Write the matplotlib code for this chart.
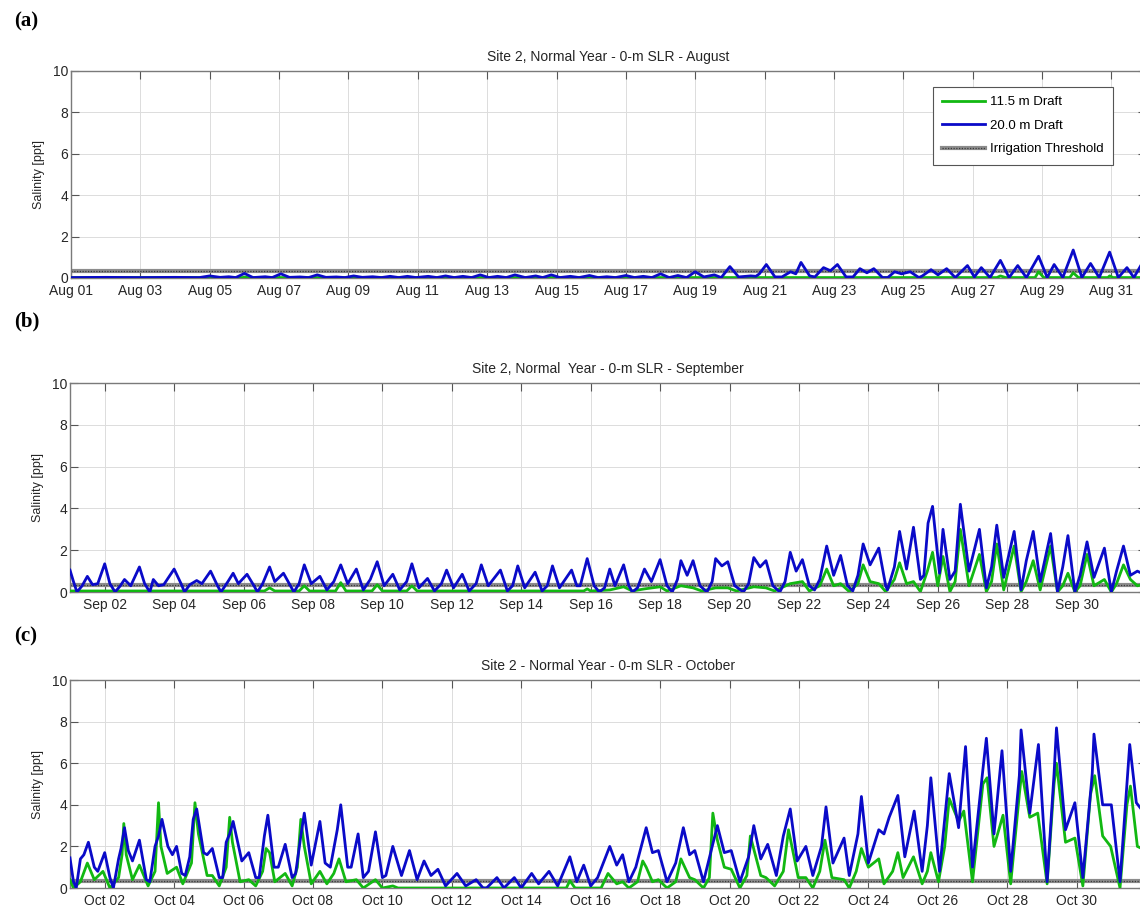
import matplotlib
matplotlib.use("Agg")
import matplotlib.pyplot as plt
import matplotlib.dates as mdates
from matplotlib.legend_handler import HandlerTuple
import pandas as pd

plt.rcParams['font.family'] = ['Liberation Sans', 'DejaVu Sans']

# salinity records as (day of month, ppt) pairs
aug_115 = [(1.0, 0.02), (5.95, 0.02), (6.0, 0.05), (6.1, 0.02), (27.7, 0.02), (27.8, 0.1), (27.95, 0.02),
           (28.8, 0.02), (28.9, 0.3), (29.05, 0.02), (29.8, 0.02), (29.9, 0.25), (30.05, 0.02),
           (30.9, 0.02), (30.95, 0.1), (31.05, 0.02), (32.0, 0.02)]
aug_200 = [(1.0, 0.02), (2.0, 0.03), (3.0, 0.02), (4.0, 0.03), (4.7, 0.02), (5.0, 0.1), (5.3, 0.03),
           (5.55, 0.06), (5.75, 0.02), (6.0, 0.22), (6.25, 0.02), (6.6, 0.06), (6.8, 0.02), (7.05, 0.2),
           (7.3, 0.03), (7.6, 0.05), (7.85, 0.02), (8.1, 0.15), (8.35, 0.03), (8.65, 0.05), (8.9, 0.02),
           (9.15, 0.1), (9.4, 0.03), (9.7, 0.06), (9.95, 0.02), (10.2, 0.08), (10.45, 0.02), (10.7, 0.08),
           (10.95, 0.02), (11.3, 0.08), (11.55, 0.02), (11.8, 0.1), (12.05, 0.02), (12.3, 0.08),
           (12.55, 0.02), (12.8, 0.15), (13.05, 0.02), (13.3, 0.08), (13.55, 0.02), (13.8, 0.15),
           (14.1, 0.02), (14.4, 0.1), (14.6, 0.02), (14.85, 0.15), (15.1, 0.02), (15.4, 0.08),
           (15.65, 0.02), (15.95, 0.12), (16.2, 0.02), (16.45, 0.06), (16.7, 0.02), (17.0, 0.12),
           (17.25, 0.02), (17.5, 0.08), (17.75, 0.02), (18.0, 0.2), (18.25, 0.02), (18.5, 0.12),
           (18.75, 0.02), (19.0, 0.3), (19.25, 0.05), (19.55, 0.15), (19.75, 0.02), (20.0, 0.55),
           (20.25, 0.05), (20.6, 0.1), (20.75, 0.08), (20.85, 0.2), (21.05, 0.65), (21.3, 0.05),
           (21.5, 0.05), (21.75, 0.3), (21.9, 0.2), (22.05, 0.75), (22.3, 0.1), (22.45, 0.05),
           (22.7, 0.5), (22.9, 0.35), (23.1, 0.65), (23.35, 0.05), (23.55, 0.05), (23.75, 0.45),
           (23.95, 0.25), (24.15, 0.45), (24.4, 0.02), (24.55, 0.02), (24.75, 0.3), (24.95, 0.2),
           (25.2, 0.3), (25.45, 0.02), (25.55, 0.1), (25.8, 0.4), (26.0, 0.15), (26.25, 0.45),
           (26.5, 0.02), (26.85, 0.6), (27.05, 0.05), (27.25, 0.5), (27.5, 0.02), (27.8, 0.85),
           (28.05, 0.02), (28.3, 0.6), (28.55, 0.02), (28.9, 1.05), (29.15, 0.02), (29.35, 0.65),
           (29.6, 0.02), (29.9, 1.35), (30.15, 0.02), (30.4, 0.7), (30.65, 0.02), (30.95, 1.25),
           (31.2, 0.02), (31.45, 0.5), (31.65, 0.02), (31.9, 0.75), (32.0, 0.8)]

sep_115 = [(1.0, 0.05), (6.6, 0.05), (6.75, 0.2), (6.9, 0.05), (7.6, 0.05), (7.75, 0.3), (7.9, 0.05),
           (8.65, 0.05), (8.8, 0.45), (8.95, 0.05), (9.7, 0.05), (9.85, 0.35), (10.0, 0.05), (10.7, 0.05),
           (10.85, 0.3), (11.0, 0.05), (15.8, 0.05), (15.9, 0.15), (16.0, 0.05), (16.55, 0.1),
           (16.95, 0.25), (17.2, 0.05), (17.55, 0.15), (18.0, 0.25), (18.2, 0.05), (18.6, 0.3),
           (18.95, 0.2), (19.2, 0.05), (19.6, 0.2), (19.95, 0.2), (20.2, 0.05), (20.7, 0.25),
           (21.05, 0.2), (21.3, 0.05), (21.75, 0.4), (22.1, 0.5), (22.3, 0.05), (22.6, 0.3), (22.8, 1.1),
           (23.0, 0.3), (23.2, 0.4), (23.45, 0.02), (23.7, 0.4), (23.85, 1.3), (24.05, 0.5), (24.3, 0.4),
           (24.5, 0.02), (24.75, 0.6), (24.9, 1.4), (25.1, 0.4), (25.3, 0.5), (25.5, 0.02), (25.7, 1.0),
           (25.85, 1.9), (26.0, 0.3), (26.15, 1.7), (26.35, 0.02), (26.5, 0.5), (26.65, 3.0),
           (26.9, 0.3), (27.2, 1.8), (27.4, 0.02), (27.55, 0.5), (27.7, 2.3), (27.9, 0.1), (28.2, 2.2),
           (28.4, 0.02), (28.55, 0.5), (28.75, 1.5), (28.95, 0.1), (29.25, 2.2), (29.45, 0.0),
           (29.6, 0.3), (29.75, 0.9), (29.95, 0.0), (30.1, 0.3), (30.3, 1.8), (30.5, 0.3), (30.8, 0.6),
           (31.0, 0.0), (31.15, 0.4), (31.35, 1.3), (31.55, 0.6), (31.75, 0.3), (32.0, 0.4)]
sep_200 = [(1.0, 1.05), (1.1, 0.5), (1.2, 0.0), (1.35, 0.3), (1.5, 0.75), (1.65, 0.35), (1.8, 0.4),
           (2.0, 1.35), (2.15, 0.4), (2.3, 0.0), (2.45, 0.3), (2.57, 0.6), (2.75, 0.3), (3.0, 1.2),
           (3.15, 0.4), (3.3, 0.0), (3.4, 0.6), (3.55, 0.3), (3.7, 0.35), (4.0, 1.1), (4.2, 0.4),
           (4.3, 0.0), (4.45, 0.35), (4.65, 0.55), (4.8, 0.4), (5.05, 1.0), (5.25, 0.3), (5.35, 0.0),
           (5.55, 0.5), (5.7, 0.9), (5.85, 0.4), (6.1, 0.85), (6.3, 0.3), (6.4, 0.0), (6.55, 0.4),
           (6.75, 1.2), (6.9, 0.5), (7.15, 0.9), (7.35, 0.3), (7.45, 0.0), (7.6, 0.4), (7.75, 1.3),
           (7.95, 0.4), (8.2, 0.75), (8.4, 0.1), (8.6, 0.5), (8.8, 1.3), (9.0, 0.4), (9.25, 1.1),
           (9.45, 0.1), (9.65, 0.6), (9.85, 1.45), (10.05, 0.3), (10.3, 0.85), (10.5, 0.1), (10.7, 0.5),
           (10.85, 1.35), (11.05, 0.2), (11.3, 0.65), (11.5, 0.05), (11.7, 0.4), (11.85, 1.05),
           (12.05, 0.2), (12.3, 0.85), (12.5, 0.05), (12.7, 0.4), (12.85, 1.3), (13.05, 0.3),
           (13.4, 1.05), (13.6, 0.05), (13.75, 0.3), (13.9, 1.25), (14.1, 0.2), (14.4, 0.95),
           (14.6, 0.05), (14.75, 0.3), (14.9, 1.25), (15.1, 0.2), (15.45, 1.05), (15.6, 0.3),
           (15.7, 0.3), (15.9, 1.6), (16.1, 0.3), (16.25, 0.0), (16.4, 0.2), (16.55, 1.1), (16.7, 0.3),
           (16.95, 1.3), (17.1, 0.3), (17.2, 0.0), (17.35, 0.2), (17.55, 1.1), (17.75, 0.5),
           (18.0, 1.55), (18.2, 0.3), (18.35, 0.0), (18.5, 0.6), (18.6, 1.5), (18.78, 0.8),
           (18.95, 1.5), (19.15, 0.3), (19.35, 0.0), (19.5, 0.5), (19.6, 1.6), (19.78, 1.25),
           (19.95, 1.45), (20.15, 0.3), (20.4, 0.0), (20.55, 0.4), (20.7, 1.65), (20.88, 1.2),
           (21.05, 1.5), (21.25, 0.3), (21.45, 0.0), (21.6, 0.5), (21.75, 1.9), (21.92, 1.0),
           (22.1, 1.55), (22.3, 0.3), (22.45, 0.1), (22.6, 0.6), (22.8, 2.2), (23.0, 0.8), (23.2, 1.75),
           (23.4, 0.3), (23.55, 0.05), (23.7, 0.8), (23.85, 2.3), (24.05, 1.3), (24.3, 2.1), (24.5, 0.3),
           (24.55, 0.1), (24.75, 1.2), (24.9, 2.9), (25.1, 1.1), (25.3, 3.1), (25.5, 0.6), (25.6, 0.8),
           (25.72, 3.3), (25.85, 4.1), (26.05, 0.9), (26.15, 3.0), (26.35, 0.6), (26.5, 1.0),
           (26.65, 4.2), (26.9, 1.0), (27.2, 3.0), (27.4, 0.2), (27.55, 1.2), (27.7, 3.2), (27.9, 0.7),
           (28.2, 2.9), (28.4, 0.1), (28.55, 1.5), (28.75, 2.9), (28.95, 0.5), (29.25, 2.8),
           (29.45, 0.0), (29.6, 1.2), (29.75, 2.7), (29.95, 0.0), (30.1, 0.8), (30.3, 2.4), (30.5, 0.7),
           (30.8, 2.1), (31.0, 0.0), (31.15, 1.0), (31.35, 2.2), (31.55, 0.8), (31.75, 1.0), (32.0, 0.8)]

oct_115 = [(1.0, 0.4), (1.1, 0.0), (1.3, 0.3), (1.5, 1.2), (1.7, 0.4), (1.95, 0.8), (2.15, 0.0), (2.4, 0.5),
           (2.5, 1.6), (2.55, 3.1), (2.62, 1.6), (2.8, 0.4), (3.0, 1.1), (3.25, 0.1), (3.45, 0.8),
           (3.55, 4.1), (3.62, 2.0), (3.8, 0.7), (4.07, 1.0), (4.25, 0.2), (4.5, 1.2), (4.6, 4.1),
           (4.7, 2.6), (4.95, 0.6), (5.1, 0.6), (5.3, 0.1), (5.5, 1.0), (5.6, 3.4), (5.68, 2.2),
           (5.9, 0.3), (6.15, 0.4), (6.35, 0.1), (6.55, 0.8), (6.65, 1.9), (6.75, 1.7), (6.9, 0.3),
           (7.2, 0.7), (7.4, 0.1), (7.55, 1.0), (7.65, 3.3), (7.75, 2.0), (7.95, 0.2), (8.2, 0.8),
           (8.4, 0.2), (8.6, 0.7), (8.75, 1.4), (8.95, 0.3), (9.25, 0.4), (9.45, 0.0), (9.8, 0.4),
           (10.0, 0.0), (10.3, 0.1), (10.45, 0.0), (15.3, 0.0), (15.4, 0.35), (15.55, 0.0), (16.3, 0.0),
           (16.5, 0.7), (16.75, 0.2), (16.92, 0.3), (17.1, 0.0), (17.35, 0.3), (17.5, 1.3), (17.6, 1.0),
           (17.78, 0.3), (17.95, 0.4), (18.2, 0.0), (18.45, 0.3), (18.6, 1.4), (18.85, 0.5), (19.0, 0.4),
           (19.25, 0.0), (19.42, 0.5), (19.52, 3.6), (19.65, 2.3), (19.85, 1.0), (20.05, 0.9),
           (20.3, 0.0), (20.5, 0.6), (20.6, 2.5), (20.9, 0.6), (21.05, 0.5), (21.3, 0.1), (21.55, 0.8),
           (21.7, 2.8), (21.98, 0.5), (22.2, 0.5), (22.4, 0.0), (22.6, 0.8), (22.75, 2.3), (22.95, 0.5),
           (23.3, 0.4), (23.45, 0.0), (23.65, 0.8), (23.8, 1.9), (24.0, 1.0), (24.3, 1.4), (24.45, 0.2),
           (24.7, 0.8), (24.85, 1.7), (25.0, 0.5), (25.3, 1.5), (25.55, 0.2), (25.7, 0.8), (25.8, 1.7),
           (26.02, 0.3), (26.2, 2.0), (26.33, 4.3), (26.6, 3.2), (26.75, 3.7), (27.0, 0.3), (27.3, 5.0),
           (27.42, 5.3), (27.62, 2.0), (27.88, 3.5), (28.1, 0.2), (28.35, 4.5), (28.42, 5.6),
           (28.65, 3.4), (28.88, 3.6), (29.15, 0.2), (29.35, 5.0), (29.42, 6.0), (29.68, 2.2),
           (29.95, 2.4), (30.18, 0.1), (30.4, 4.5), (30.52, 5.4), (30.75, 2.5), (30.98, 2.0),
           (31.25, 0.0), (31.45, 4.0), (31.55, 4.9), (31.75, 2.0), (32.0, 1.8)]
oct_200 = [(1.0, 1.45), (1.1, 0.3), (1.18, 0.0), (1.3, 1.4), (1.4, 1.6), (1.53, 2.2), (1.7, 1.0), (1.8, 0.8),
           (2.0, 1.7), (2.15, 0.5), (2.25, 0.0), (2.4, 1.4), (2.47, 1.9), (2.57, 2.9), (2.68, 1.8),
           (2.8, 1.3), (3.0, 2.3), (3.2, 0.4), (3.3, 0.3), (3.45, 2.0), (3.55, 2.5), (3.65, 3.3),
           (3.82, 2.0), (3.95, 1.6), (4.07, 2.0), (4.22, 0.7), (4.32, 0.6), (4.45, 1.5), (4.55, 3.3),
           (4.65, 3.8), (4.85, 1.7), (4.95, 1.6), (5.1, 1.9), (5.3, 0.5), (5.4, 0.5), (5.5, 2.2),
           (5.6, 2.6), (5.7, 3.2), (5.95, 1.3), (6.15, 1.7), (6.35, 0.5), (6.45, 0.5), (6.6, 2.5),
           (6.7, 3.5), (6.88, 1.0), (7.0, 1.0), (7.2, 2.1), (7.4, 0.5), (7.5, 0.7), (7.65, 2.5),
           (7.75, 3.6), (7.95, 1.1), (8.2, 3.2), (8.35, 1.2), (8.5, 1.0), (8.7, 2.8), (8.8, 4.0),
           (9.0, 1.0), (9.1, 1.0), (9.3, 2.6), (9.45, 0.5), (9.6, 0.8), (9.8, 2.7), (10.0, 0.5),
           (10.1, 0.6), (10.3, 2.0), (10.55, 0.6), (10.78, 1.8), (11.0, 0.4), (11.2, 1.3), (11.4, 0.6),
           (11.6, 0.9), (11.82, 0.1), (12.15, 0.7), (12.4, 0.1), (12.7, 0.4), (12.9, 0.0), (13.0, 0.0),
           (13.3, 0.5), (13.5, 0.0), (13.8, 0.5), (14.0, 0.0), (14.3, 0.7), (14.5, 0.2), (14.8, 0.8),
           (15.05, 0.1), (15.4, 1.5), (15.6, 0.3), (15.8, 1.1), (16.0, 0.1), (16.2, 0.5), (16.55, 2.0),
           (16.75, 1.1), (16.92, 1.6), (17.1, 0.3), (17.3, 1.0), (17.6, 2.9), (17.78, 1.7),
           (17.95, 1.8), (18.2, 0.3), (18.45, 1.2), (18.67, 2.9), (18.85, 1.6), (19.0, 1.8),
           (19.25, 0.3), (19.5, 2.0), (19.65, 3.0), (19.85, 1.7), (20.05, 1.8), (20.3, 0.3),
           (20.55, 1.5), (20.7, 3.0), (20.9, 1.4), (21.1, 2.1), (21.35, 0.6), (21.55, 2.5),
           (21.75, 3.8), (21.95, 1.3), (22.2, 2.0), (22.4, 0.6), (22.65, 2.0), (22.78, 3.9),
           (22.98, 1.2), (23.3, 2.4), (23.45, 0.6), (23.7, 2.6), (23.8, 4.4), (24.0, 1.2), (24.3, 2.8),
           (24.45, 2.6), (24.6, 3.4), (24.85, 4.45), (25.05, 1.5), (25.32, 3.7), (25.55, 0.8),
           (25.7, 3.0), (25.8, 5.3), (26.05, 0.8), (26.33, 5.5), (26.6, 2.9), (26.8, 6.8), (27.0, 1.0),
           (27.3, 5.7), (27.4, 7.2), (27.62, 2.6), (27.85, 6.6), (28.1, 0.8), (28.35, 5.4), (28.4, 7.6),
           (28.65, 3.6), (28.9, 6.9), (29.15, 0.3), (29.35, 5.5), (29.42, 7.7), (29.68, 2.8),
           (29.95, 4.1), (30.18, 0.5), (30.45, 5.5), (30.5, 7.4), (30.75, 4.0), (31.0, 4.0),
           (31.25, 0.3), (31.45, 5.0), (31.53, 6.9), (31.72, 4.1), (32.0, 3.5)]

threshold = 0.35
month_starts = ['2015-08-01', '2015-09-01', '2015-10-01']
titles = ['Site 2, Normal Year - 0-m SLR - August',
          'Site 2, Normal  Year - 0-m SLR - September',
          'Site 2 - Normal Year - 0-m SLR - October']
panel_tags = ['(a)', '(b)', '(c)']
first_tick_day = [1, 2, 2]
series_115 = [aug_115, sep_115, oct_115]
series_200 = [aug_200, sep_200, oct_200]

GREEN = '#12b812'
BLUE = '#0a0ac8'
TXT = '#262626'


def to_series(start, pairs):
    t0 = pd.Timestamp(start)
    days = [d for d, _ in pairs]
    vals = [v for _, v in pairs]
    times = t0 + pd.to_timedelta([d - 1 for d in days], unit='D')
    return times, vals


fig = plt.figure(figsize=(11.4, 9.09), dpi=100)
boxes = [(0.0623, 0.6942, 0.9430, 0.2277),
         (0.0614, 0.3487, 0.9439, 0.2299),
         (0.0614, 0.0231, 0.9439, 0.2288)]
tag_y = [0.976, 0.646, 0.300]

for i in range(3):
    ax = fig.add_axes(boxes[i])
    start = pd.Timestamp(month_starts[i])
    end = start + pd.Timedelta(days=31)
    month_end = start + pd.offsets.MonthEnd(0)

    thr_band, = ax.plot([start, end], [threshold, threshold], color='#8c8c8c', lw=3.0, zorder=2)
    thr_dots, = ax.plot([start, end], [threshold, threshold], color='#3a3a3a', lw=0.9,
                        ls=(0, (1, 1.2)), zorder=2.1)
    t, v = to_series(month_starts[i], series_115[i])
    g_line, = ax.plot(t, v, color=GREEN, lw=2.0, zorder=3)
    t, v = to_series(month_starts[i], series_200[i])
    b_line, = ax.plot(t, v, color=BLUE, lw=2.0, zorder=4)

    ax.set_xlim(start, end)
    ax.set_ylim(0, 10)
    ax.set_yticks([0, 2, 4, 6, 8, 10])
    ticks = pd.date_range(start + pd.Timedelta(days=first_tick_day[i] - 1), month_end, freq='2D')
    ax.set_xticks(ticks)
    ax.xaxis.set_major_formatter(mdates.DateFormatter('%b %d'))
    ax.tick_params(direction='in', length=6, width=0.8, top=True, right=True,
                   labelsize=10, colors='#555555', labelcolor=TXT, pad=2)
    ax.tick_params(axis='x', pad=4)
    ax.grid(True, color='#dcdcdc', lw=0.7)
    ax.set_axisbelow(True)
    for s in ax.spines.values():
        s.set_color('#7a7a7a')
        s.set_linewidth(1.0)
    ax.set_ylabel('Salinity [ppt]', fontsize=9, color=TXT, labelpad=6)
    ax.set_title(titles[i], fontsize=10, color=TXT, pad=7, x=0.5)

    fig.text(0.012, tag_y[i], panel_tags[i], fontsize=15, fontweight='bold', va='center',
             family=['Liberation Serif', 'DejaVu Serif'], color='black')

    if i == 0:
        leg = ax.legend([g_line, b_line, (thr_band, thr_dots)],
                        ['11.5 m Draft', '20.0 m Draft', 'Irrigation Threshold'],
                        handler_map={tuple: HandlerTuple(ndivide=1, pad=0)},
                        loc='upper right', bbox_to_anchor=(0.969, 0.923), borderaxespad=0,
                        fontsize=9.5, frameon=True, fancybox=False, edgecolor='#555555',
                        framealpha=1, handlelength=3.2, borderpad=0.7, labelspacing=0.85,
                        handletextpad=0.4)
        leg.get_frame().set_linewidth(0.8)

fig.savefig('out.png', dpi=100)
